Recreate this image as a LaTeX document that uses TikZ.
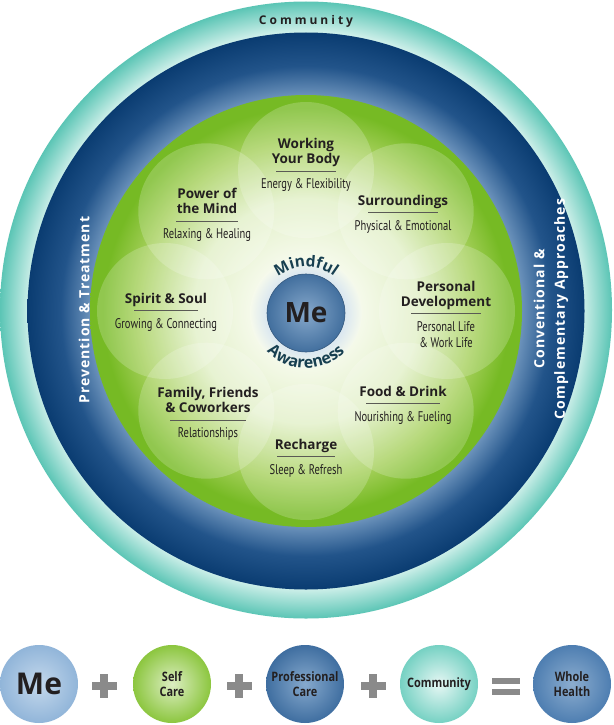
\documentclass[tikz,border=0pt]{standalone}
\usepackage{fontspec}
\setmainfont{Open Sans}
\newfontfamily\condfont{PT Sans}[FakeStretch=0.75]
\newfontfamily\bubblefont{Open Sans}[FakeStretch=0.84]
\usepackage{tikz}
\usepackage{xcolor}
\usetikzlibrary{positioning, decorations.text}

\definecolor{tealDark}{HTML}{5BC5B5}
\definecolor{tealLight}{HTML}{CDEFE9}
\definecolor{blueDark}{HTML}{0A3C71}
\definecolor{blueMid}{HTML}{22548A}
\definecolor{blueLight}{HTML}{6A91BA}
\definecolor{greenEdge}{HTML}{76BA24}
\definecolor{greenMid}{HTML}{A6D05C}
\definecolor{greenLight}{HTML}{E2F0C8}
\definecolor{greenCenter}{HTML}{F6FAEC}
\definecolor{haloBlue}{HTML}{DCE8F0}
\definecolor{meDark}{HTML}{426F9E}
\definecolor{meLight}{HTML}{86A8CB}
\definecolor{inkdark}{HTML}{231F20}
\definecolor{mindteal}{HTML}{173F50}
\definecolor{rulegray}{HTML}{5A5A55}
\definecolor{signgray}{HTML}{8A8A8A}
\definecolor{meBubble}{HTML}{91B5D9}
\definecolor{meBubbleIn}{HTML}{C4D8EC}
\definecolor{selfGreen}{HTML}{8CC63F}
\definecolor{selfGreenIn}{HTML}{DCEEC2}
\definecolor{profBlue}{HTML}{3F6EA0}
\definecolor{profBlueIn}{HTML}{86A9CD}
\definecolor{commTeal}{HTML}{76D1C3}
\definecolor{commTealIn}{HTML}{E6F7F4}
\definecolor{wholeBlue}{HTML}{4E7EB1}
\definecolor{wholeBlueIn}{HTML}{8CADCF}

\pgfdeclareradialshading{tealring}{\pgfpoint{0bp}{0bp}}{color(0bp)=(tealLight); color(22.6bp)=(tealLight); color(25bp)=(tealDark); color(50bp)=(tealDark)}
\pgfdeclareradialshading{bluering}{\pgfpoint{0bp}{0bp}}{color(0bp)=(blueLight); color(19.4bp)=(blueLight); color(22bp)=(blueMid); color(25bp)=(blueDark); color(50bp)=(blueDark)}
\pgfdeclareradialshading{greendisk}{\pgfpoint{0bp}{0bp}}{color(0bp)=(greenCenter); color(6bp)=(greenCenter); color(13bp)=(greenLight); color(19.5bp)=(greenMid); color(23.5bp)=(greenEdge); color(50bp)=(greenEdge)}
\pgfdeclareradialshading{mehalo}{\pgfpoint{0bp}{0bp}}{color(0bp)=(white); color(18bp)=(haloBlue); color(25bp)=(greenCenter); color(50bp)=(greenCenter)}

\newcommand{\sepline}[1]{\textcolor{rulegray}{\rule{#1pt}{0.6pt}}}
\newcommand{\subtext}[1]{{\condfont\mdseries\fontsize{14}{16}\selectfont #1}}

\tikzset{
  petal/.style={fill=white, fill opacity=0.2},
  wheeltext/.style={align=center, inner sep=0pt, text=inkdark, font=\bfseries\fontsize{13.5}{15.5}\selectfont},
  sidetext/.style={align=center, inner sep=0pt, text=white, rotate=90, font=\bfseries\fontsize{14}{20.5}\selectfont\addfontfeature{LetterSpace=7}},
  bubble/.style={circle, minimum size=78pt, inner sep=0pt, align=center, text=inkdark, font=\bubblefont\bfseries\fontsize{13}{15}\selectfont},
  sign/.style={fill=signgray}
}

\begin{document}
\begin{tikzpicture}[x=1pt, y=1pt]
  \useasboundingbox (0,0) rectangle (613,-725);
  \fill[white] (0,0) rectangle (613,-725);
  \coordinate (ctr) at (306,-311);

  % rings
  \path[shading=tealring] (306,-310) ellipse [x radius=306, y radius=308.5];
  \path[shading=bluering] (ctr) ellipse [x radius=278.5, y radius=278.5];
  \path[shading=greendisk] (ctr) circle (216);

  % petals
  \foreach \ang in {0,45,...,315}
    \fill[petal] (ctr) ++(\ang:141) circle (68);

  % center
  \path[shading=mehalo] (306,-313) circle (56);
  \node[circle, minimum size=78pt, inner sep=0pt, inner color=meLight, outer color=meDark, draw=meDark!80!black, line width=0.6pt,
        text=inkdark, font=\bfseries\fontsize{28}{28}\selectfont] (me) at (306,-313) {Me};
  \path[decorate, decoration={text along path, text align=center, text color=mindteal,
        text={|\bfseries\fontsize{15.5}{15.5}\selectfont|Mindful}}] (306,-313) ++(165:46) arc (165:15:46);
  \path[decorate, decoration={text along path, text align=center, text color=mindteal,
        text={|\bfseries\fontsize{16}{16}\selectfont|Awareness}}] (306,-313) ++(195:55) arc (195:345:55);

  % petal labels
  \node[wheeltext] (body) at (306,-165) {Working\\Your Body\\[-8pt]\sepline{60}\\[2pt]\subtext{Energy \& Flexibility}};
  \node[wheeltext] (surround) at (403,-214) {Surroundings\\[-8pt]\sepline{70}\\[2pt]\subtext{Physical \& Emotional}};
  \node[wheeltext] (develop) at (446,-314) {Personal\\Development\\[-8pt]\sepline{70}\\[2pt]\subtext{Personal Life}\\\subtext{\& Work Life}};
  \node[wheeltext] (food) at (403,-405) {Food \& Drink\\[-8pt]\sepline{74}\\[2pt]\subtext{Nourishing \& Fueling}};
  \node[wheeltext] (recharge) at (306,-458) {Recharge\\[-8pt]\sepline{58}\\[2pt]\subtext{Sleep \& Refresh}};
  \node[wheeltext] (family) at (208,-414) {Family, Friends\\\& Coworkers\\[-8pt]\sepline{76}\\[2pt]\subtext{Relationships}};
  \node[wheeltext] (spirit) at (166,-312) {Spirit \& Soul\\[-8pt]\sepline{64}\\[2pt]\subtext{Growing \& Connecting}};
  \node[wheeltext] (mind) at (207,-215) {Power of\\the Mind\\[-8pt]\sepline{62}\\[2pt]\subtext{Relaxing \& Healing}};

  % ring labels
  \node[inner sep=0pt, text=inkdark, font=\bfseries\fontsize{12}{12}\selectfont\addfontfeature{LetterSpace=25}] (community) at (306,-21) {Community};
  \node[sidetext] (prevention) at (84,-310) {Prevention \& Treatment};
  \node[sidetext] (approaches) at (551,-309) {Conventional \&\\Complementary Approaches};

  % equation row
  \node[bubble, inner color=meBubbleIn, outer color=meBubble, font=\bfseries\fontsize{30}{30}\selectfont] (meB) at (39,-684) {Me};
  \node[bubble, inner color=selfGreenIn, outer color=selfGreen] (self) at (172,-684) {Self\\Care};
  \node[bubble, inner color=profBlueIn, outer color=profBlue] (prof) at (305,-684) {Professional\\Care};
  \node[bubble, inner color=commTealIn, outer color=commTeal] (comm) at (439,-684) {Community};
  \node[bubble, inner color=wholeBlueIn, outer color=wholeBlue] (whole) at (572,-684) {Whole\\Health};

  \foreach \px in {104,239,373} {
    \fill[sign] (\px-12.5,-690) rectangle (\px+12.5,-682);
    \fill[sign] (\px-4,-698) rectangle (\px+4,-674);
  }
  \fill[sign] (492,-678) rectangle (520,-684);
  \fill[sign] (492,-689) rectangle (520,-695);
\end{tikzpicture}
\end{document}
